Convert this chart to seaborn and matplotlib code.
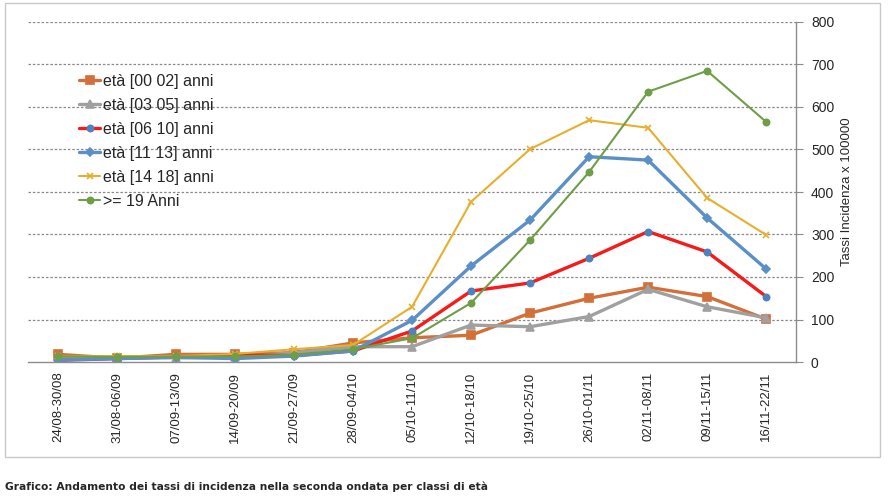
import numpy as np
import pandas as pd
import matplotlib
matplotlib.use("Agg")
import matplotlib.pyplot as plt
import seaborn as sns
from matplotlib.patches import Rectangle

# ── data ─────────────────────────────────────────────
weeks = [
    "24/08-30/08", "31/08-06/09", "07/09-13/09", "14/09-20/09", "21/09-27/09",
    "28/09-04/10", "05/10-11/10", "12/10-18/10", "19/10-25/10", "26/10-01/11",
    "02/11-08/11", "09/11-15/11", "16/11-22/11",
]
eta_00_02 = [18, 9, 18, 18, 22, 45, 57, 63, 115, 150, 176, 154, 101]
eta_03_05 = [11, 11, 10, 11, 22, 36, 36, 87, 83, 107, 171, 130, 104]
eta_06_10 = [4, 8, 12, 17, 15, 26, 73, 167, 186, 244, 307, 259, 154]
eta_11_13 = [5, 8, 11, 8, 14, 26, 98, 226, 334, 483, 475, 339, 219]
eta_14_18 = [13, 14, 14, 19, 30, 40, 130, 377, 501, 569, 551, 386, 299]
eta_19_up = [13, 12, 13, 13, 17, 30, 56, 139, 287, 447, 636, 685, 565]

series_names = ["età [00 02] anni", "età [03 05] anni", "età [06 10] anni",
                "età [11 13] anni", "età [14 18] anni", ">= 19 Anni"]
series_vals = [eta_00_02, eta_03_05, eta_06_10, eta_11_13, eta_14_18, eta_19_up]

# colour, marker, line width, marker size, marker face, marker edge
styles = [
    ("#D3703A", "s", 2.4, 6, "#D3703A", "#D3703A"),
    ("#A0A0A0", "^", 2.4, 6, "#A0A0A0", "#A0A0A0"),
    ("#F51B1B", "o", 2.4, 4.5, "#4F81BD", "#4F81BD"),
    ("#5B8FC7", "D", 2.4, 4.5, "#5B8FC7", "#5B8FC7"),
    ("#E6AF2E", "x", 1.5, 5, "#E6AF2E", "#E6AF2E"),
    ("#6E9E47", "o", 1.5, 4.5, "#6E9E47", "#6E9E47"),
]

df = pd.DataFrame({"x": np.arange(len(weeks))})
for name, vals in zip(series_names, series_vals):
    df[name] = vals

sns.set_style("white")
plt.rcParams["font.family"] = ["Liberation Sans", "DejaVu Sans"]

fig = plt.figure(figsize=(8.9, 5.0), dpi=100)
ax = fig.add_axes([0.032, 0.276, 0.862, 0.68])

for name, (col, mk, lw, ms, mfc, mec) in zip(series_names, styles):
    sns.lineplot(data=df, x="x", y=name, ax=ax, color=col, linewidth=lw,
                 marker=mk, markersize=ms, markerfacecolor=mfc,
                 markeredgecolor=mec, markeredgewidth=1.2, label=name)

ax.set_xlim(-0.5, len(weeks) - 0.5)
ax.set_ylim(0, 800)
ax.set_yticks(np.arange(0, 801, 100))
ax.yaxis.tick_right()
ax.yaxis.set_label_position("right")
ax.set_ylabel("Tassi Incidenza x 100000", fontsize=9.5, labelpad=5)
ax.set_xlabel("")

ax.set_xticks(np.arange(len(weeks)))
ax.set_xticklabels(weeks, rotation=90, fontsize=9.5, va="top")
ax.set_xticks(np.arange(-0.5, len(weeks)), minor=True)
ax.tick_params(axis="x", which="major", length=0, pad=7)
ax.tick_params(axis="x", which="minor", length=5, color="#8c8c8c", direction="out")
ax.tick_params(axis="y", length=5, color="#8c8c8c", direction="out",
               labelsize=10, pad=6)

for y in range(100, 801, 100):
    ax.axhline(y, color="#8a8a8a", linestyle=(0, (2, 1.5)), linewidth=0.9, zorder=0)

for side in ["top", "left"]:
    ax.spines[side].set_visible(False)
for side in ["bottom", "right"]:
    ax.spines[side].set_color("#8c8c8c")
    ax.spines[side].set_linewidth(1.0)

leg = ax.legend(loc="upper left", bbox_to_anchor=(0.058, 0.866), frameon=False,
                fontsize=11.5, handlelength=1.3, handletextpad=0.15,
                labelspacing=0.56, borderaxespad=0)

fig.patches.append(Rectangle((5 / 890, 1 - 457 / 500), 875 / 890, 454 / 500,
                             transform=fig.transFigure, fill=False,
                             edgecolor="#c8c8c8", linewidth=1.0))

fig.text(5 / 890, 1 - 487 / 500,
         "Grafico: Andamento dei tassi di incidenza nella seconda ondata per classi di età",
         fontsize=7.7, fontweight="bold", family="DejaVu Sans", va="center")

fig.savefig("out.png", dpi=100)
